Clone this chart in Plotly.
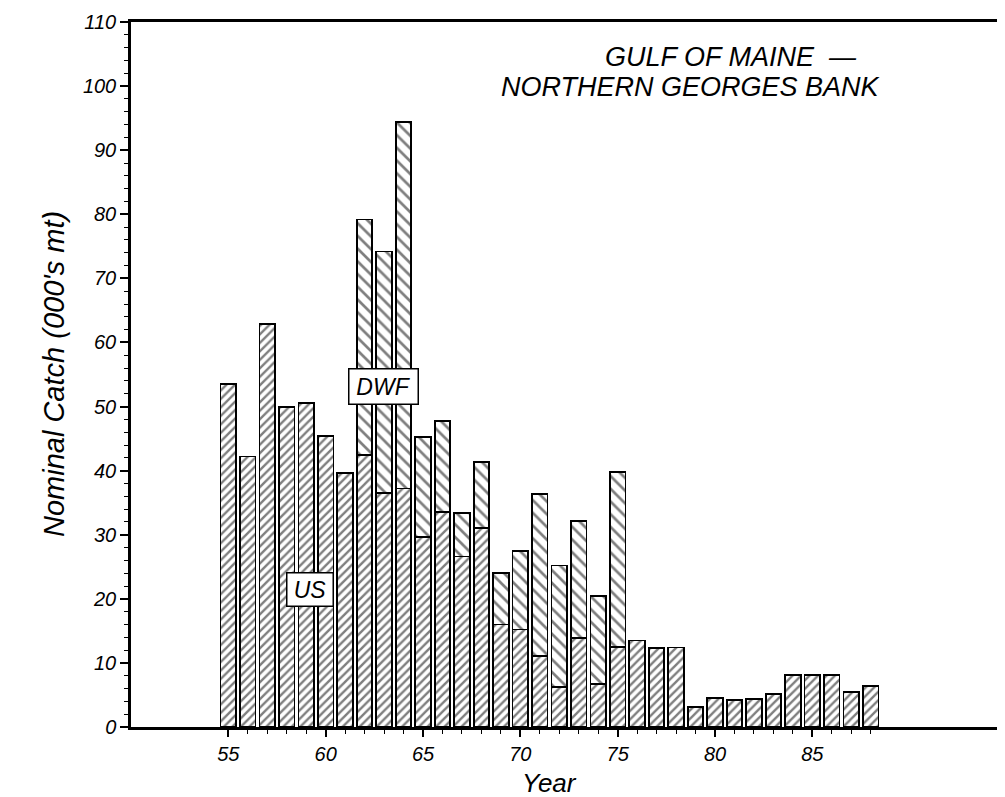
import plotly.graph_objects as go

# Capturas nominales (miles de t) por año
anios = list(range(55, 89))
us = [53.5, 42.2, 62.9, 49.9, 50.6, 45.4, 39.6, 42.4, 36.5, 37.2,
      29.6, 33.5, 26.6, 31.0, 16.0, 15.2, 11.1, 6.2, 13.9, 6.7,
      12.5, 13.5, 12.3, 12.4, 3.1, 4.5, 4.2, 4.4, 5.1, 8.1,
      8.1, 8.1, 5.4, 6.4]
dwf = [0, 0, 0, 0, 0, 0, 0, 36.8, 37.7, 57.2,
       15.7, 14.2, 6.8, 10.4, 8.0, 12.3, 25.2, 19.0, 18.2, 13.8,
       27.3, 0, 0, 0, 0, 0, 0, 0, 0, 0,
       0, 0, 0, 0]
etiquetas_x = [55, 60, 65, 70, 75, 80, 85]
etiquetas_y = list(range(0, 111, 10))

FUENTE = "Liberation Sans"

fig = go.Figure()
fig.add_trace(go.Bar(
    x=anios, y=us, name="US", width=0.8,
    marker=dict(color="white", line=dict(color="black", width=1.8),
                pattern=dict(shape="/", fgcolor="black", bgcolor="white",
                             size=6, solidity=0.4))
))
fig.add_trace(go.Bar(
    x=anios, y=dwf, name="DWF", width=0.8,
    marker=dict(color="white", line=dict(color="black", width=1.8),
                pattern=dict(shape="\\", fgcolor="black", bgcolor="white",
                             size=9, solidity=0.3))
))

fig.update_layout(
    barmode="stack",
    width=1005, height=797,
    showlegend=False,
    plot_bgcolor="white", paper_bgcolor="white",
    margin=dict(l=123, r=3, t=13, b=78),
    font=dict(family=FUENTE, size=20, color="black", style="italic"),
)

fig.update_xaxes(
    range=[50, 95], tickvals=etiquetas_x, ticks="outside", ticklen=7, tickwidth=1.5,
    tickcolor="black", tickfont=dict(family=FUENTE, size=20, style="italic"),
    minor=dict(tickvals=anios, ticks="outside", ticklen=4, tickwidth=1, tickcolor="black"),
    showline=True, linecolor="black", linewidth=2.5, mirror=True, showgrid=False, zeroline=False,
)
fig.update_yaxes(
    range=[0, 110], tickvals=etiquetas_y, ticks="outside", ticklen=8, tickwidth=1.5,
    tickcolor="black", tickfont=dict(family=FUENTE, size=20, style="italic"),
    minor=dict(dtick=2, ticks="outside", ticklen=4, tickwidth=1, tickcolor="black"),
    showline=True, linecolor="black", linewidth=2.5, mirror=True, showgrid=False, zeroline=False,
)

# Títulos y etiquetas
fig.add_annotation(text="Nominal Catch (000's mt)", xref="paper", yref="paper",
                   x=-0.109, y=0.5, textangle=-90, showarrow=False,
                   font=dict(family=FUENTE, size=29, style="italic"))
fig.add_annotation(text="Year", xref="paper", yref="paper",
                   x=0.478, y=-0.055, yanchor="top", showarrow=False,
                   font=dict(family=FUENTE, size=26, style="italic"))
fig.add_annotation(text="GULF OF MAINE  —", x=80.8, y=104.6, showarrow=False,
                   font=dict(family=FUENTE, size=27, style="italic"))
fig.add_annotation(text="NORTHERN GEORGES BANK", x=78.76, y=99.8, showarrow=False,
                   font=dict(family=FUENTE, size=27, style="italic"))

# Cajas de series
fig.add_annotation(text="DWF", x=62.96, y=53.06, showarrow=False,
                   bgcolor="white", bordercolor="black", borderwidth=1.5, borderpad=1,
                   width=66, height=32, font=dict(family=FUENTE, size=23, style="italic"))
fig.add_annotation(text="US", x=59.17, y=21.5, showarrow=False,
                   bgcolor="white", bordercolor="black", borderwidth=1.5, borderpad=1,
                   width=43, height=30, font=dict(family=FUENTE, size=23, style="italic"))

fig.write_html("out.html")
